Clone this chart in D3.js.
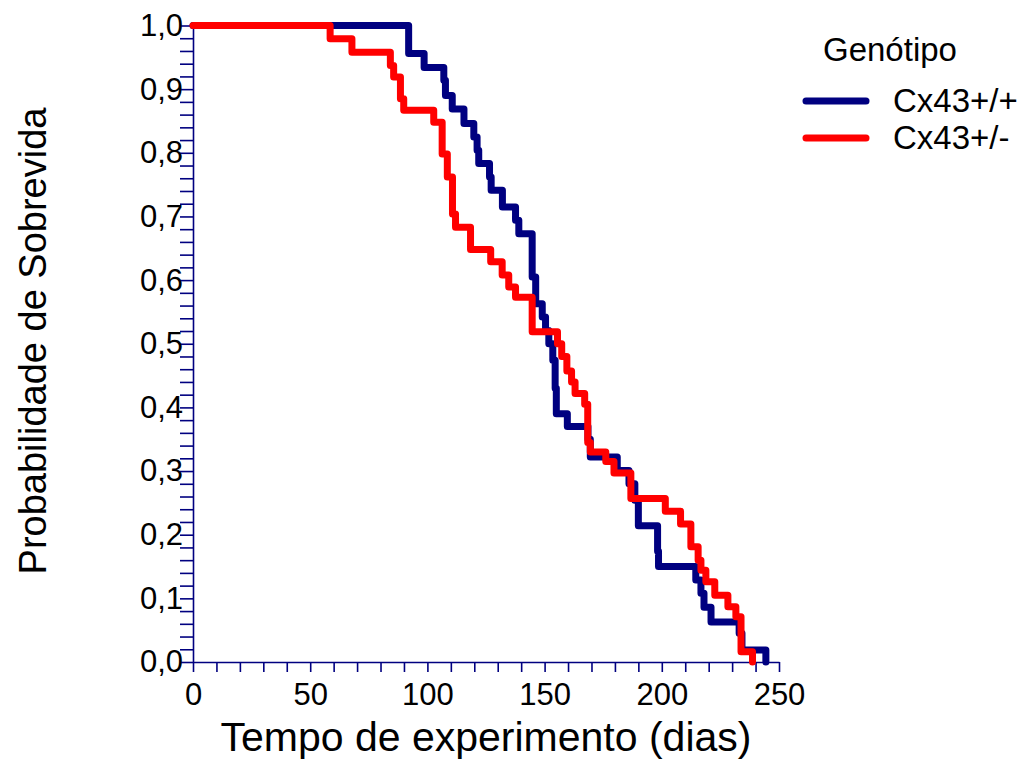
<!DOCTYPE html>
<html lang="pt">
<head>
<meta charset="UTF-8">
<title>Sobrevida por genótipo</title>
<script src="https://cdnjs.cloudflare.com/ajax/libs/d3/7.9.0/d3.min.js"></script>
<style>
  body { margin: 0; background: #fff; }
  svg { display: block; font-family: "Liberation Sans", Arial, sans-serif; }
</style>
</head>
<body>
<svg id="chart" width="1027" height="762"></svg>
<script>
// Kaplan-Meier steps (time in days, survival probability)
const wtTimes = [0, 92, 98.6, 107, 107.7, 110.6, 115.6, 119.8, 121.2, 121.9, 126.5, 127.2, 132, 137.6, 139, 144.7, 146.2, 149, 150.4, 151.8, 153.5, 154.5, 155, 159.7, 168.5, 169.5, 181, 186, 188.5, 190, 198.2, 198.6, 214.5, 216.7, 218, 221, 233, 234.2, 244.4];
const wtSurv  = [1, 0.956, 0.934, 0.914, 0.890, 0.869, 0.846, 0.825, 0.804, 0.783, 0.762, 0.741, 0.715, 0.694, 0.673, 0.605, 0.563, 0.542, 0.521, 0.500, 0.474, 0.430, 0.390, 0.370, 0.350, 0.322, 0.301, 0.280, 0.254, 0.214, 0.174, 0.150, 0.129, 0.108, 0.086, 0.063, 0.045, 0.019, 0];

const hetTimes = [0, 58.5, 67.8, 84.2, 85.6, 88.5, 89.9, 102.7, 106.3, 108.5, 110.7, 112, 118.4, 127, 131.9, 134.7, 137.6, 144.7, 155.5, 157.3, 159.5, 161.5, 163, 167.1, 168.4, 169.5, 176.1, 179.6, 186.8, 201.5, 208, 212.4, 215.5, 216.7, 218.8, 222.6, 228.2, 231.6, 233.8, 238.7];
const hetSurv  = [1, 0.979, 0.958, 0.937, 0.919, 0.885, 0.867, 0.848, 0.798, 0.762, 0.704, 0.683, 0.648, 0.629, 0.608, 0.589, 0.573, 0.519, 0.500, 0.480, 0.457, 0.440, 0.422, 0.405, 0.345, 0.330, 0.315, 0.297, 0.257, 0.237, 0.217, 0.181, 0.160, 0.144, 0.126, 0.105, 0.087, 0.071, 0.016, 0];

const seriesNames = ["Cx43+/+", "Cx43+/-"];
const seriesColors = ["#000080", "#ff0000"];
const xTicks = d3.range(0, 251, 10);
const yTicks = d3.range(0, 51).map(i => i / 50);

const svg = d3.select("#chart");
const navy = "#000080";

const x = d3.scaleLinear().domain([0, 250]).range([193, 779]);
const y = d3.scaleLinear().domain([0, 1]).range([662, 25.5]);

// axes
const yAxis = d3.axisLeft(y)
    .tickValues(yTicks)
    .tickSize(13)
    .tickSizeOuter(0)
    .tickPadding(-3)
    .tickFormat(d => Math.round(d * 100) % 10 === 0 ? d.toFixed(1).replace(".", ",") : "");

const xAxis = d3.axisBottom(x)
    .tickValues(xTicks)
    .tickSize(10)
    .tickSizeOuter(0)
    .tickPadding(11)
    .tickFormat(d => d % 50 === 0 ? d : "");

const gy = svg.append("g")
    .attr("transform", `translate(${x(0)},0)`)
    .call(yAxis);

const gx = svg.append("g")
    .attr("transform", `translate(0,${y(0)})`)
    .call(xAxis);

[gx, gy].forEach(g => {
    g.selectAll("path, line").attr("stroke", navy).attr("stroke-width", 1.6);
    g.selectAll("text").attr("fill", "#000").style("font-size", "31px").attr("font-family", null);
});

// survival curves
const line = d3.line()
    .x(d => x(d[0]))
    .y(d => y(d[1]))
    .curve(d3.curveStepAfter);

const series = [
    d3.zip(wtTimes, wtSurv),
    d3.zip(hetTimes, hetSurv)
];

svg.append("g")
    .selectAll("path")
    .data(series)
    .enter()
    .append("path")
    .attr("d", line)
    .attr("fill", "none")
    .attr("stroke", (d, i) => seriesColors[i])
    .attr("stroke-width", 7)
    .attr("stroke-linejoin", "round")
    .attr("stroke-linecap", "round");

// axis titles
svg.append("text")
    .attr("x", 486)
    .attr("y", 751)
    .attr("text-anchor", "middle")
    .style("font-size", "41px")
    .text("Tempo de experimento (dias)");

svg.append("text")
    .attr("transform", "translate(46,341) rotate(-90)")
    .attr("text-anchor", "middle")
    .style("font-size", "38px")
    .text("Probabilidade de Sobrevida");

// legend
svg.append("text")
    .attr("x", 823)
    .attr("y", 61)
    .style("font-size", "33px")
    .text("Genótipo");

const legend = svg.selectAll(".legend")
    .data(seriesNames)
    .enter()
    .append("g")
    .attr("class", "legend")
    .attr("transform", (d, i) => `translate(0,${101 + i * 37})`);

legend.append("line")
    .attr("x1", 806)
    .attr("x2", 866)
    .attr("stroke", (d, i) => seriesColors[i])
    .attr("stroke-width", 7)
    .attr("stroke-linecap", "round");

legend.append("text")
    .attr("x", 893)
    .attr("y", 11)
    .style("font-size", "33px")
    .text(d => d);
</script>
</body>
</html>
